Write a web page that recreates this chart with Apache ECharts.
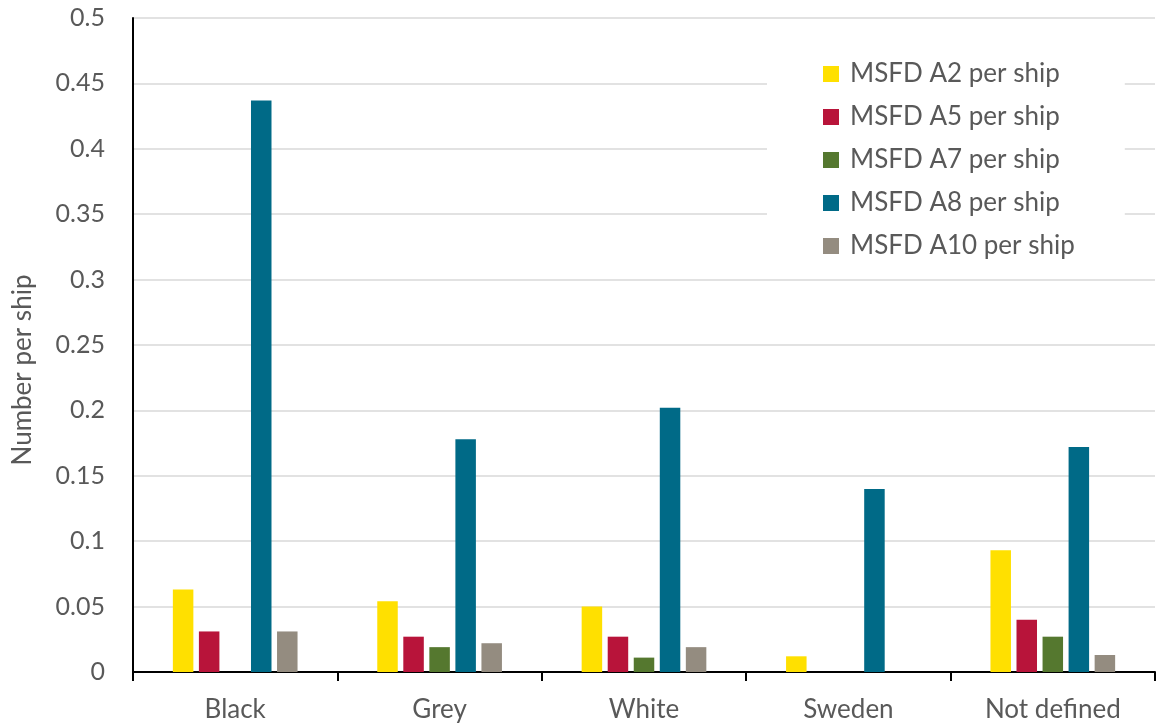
<!DOCTYPE html>
<html>
<head>
<meta charset="utf-8">
<script src="https://cdn.jsdelivr.net/npm/echarts@6/dist/echarts.min.js"></script>
<style>html,body{margin:0;padding:0;background:#fff;}#c{width:1157px;height:726px;}</style>
</head>
<body>
<div id="c"></div>
<script>
const categories = ['Black', 'Grey', 'White', 'Sweden', 'Not defined'];
const seriesNames = ['MSFD A2 per ship', 'MSFD A5 per ship', 'MSFD A7 per ship', 'MSFD A8 per ship', 'MSFD A10 per ship'];
const a2 = [0.063, 0.054, 0.050, 0.012, 0.093];
const a5 = [0.031, 0.027, 0.027, 0, 0.040];
const a7 = [0, 0.019, 0.011, 0, 0.027];
const a8 = [0.437, 0.178, 0.202, 0.140, 0.172];
const a10 = [0.031, 0.022, 0.019, 0, 0.013];
const colors = ['#FFE000', '#B8143A', '#55782F', '#006A87', '#948C80'];
const yTicks = { min: 0, max: 0.5, interval: 0.05 };

const FONT = 'Lato';
const TXT = '#595959';
const values = [a2, a5, a7, a8, a10];

const chart = echarts.init(document.getElementById('c'), null, { renderer: 'canvas' });
chart.setOption({
  animation: false,
  textStyle: { fontFamily: FONT },
  grid: { left: 133, right: 2, top: 18, bottom: 54, containLabel: false, outerBoundsMode: 'none' },
  legend: {
    orient: 'vertical',
    left: 767,
    top: 49,
    padding: [12, 50, 12, 56],
    backgroundColor: '#ffffff',
    itemWidth: 16,
    itemHeight: 16,
    itemGap: 17,
    icon: 'rect',
    data: seriesNames,
    textStyle: { color: TXT, fontFamily: FONT, fontSize: 26, padding: [0, 0, 0, 6] }
  },
  xAxis: {
    type: 'category',
    data: categories,
    axisLine: { lineStyle: { color: '#000', width: 2 } },
    axisTick: { show: true, length: 9, lineStyle: { color: '#000', width: 2 } },
    axisLabel: { color: TXT, fontFamily: FONT, fontSize: 26, margin: 25 },
    splitLine: { show: false }
  },
  yAxis: {
    type: 'value',
    min: yTicks.min,
    max: yTicks.max,
    interval: yTicks.interval,
    name: 'Number per ship',
    nameLocation: 'middle',
    nameGap: 97,
    nameRotate: 90,
    nameTextStyle: { color: TXT, fontFamily: FONT, fontSize: 26, padding: [0, 50, 0, 0] },
    axisLine: { show: true, lineStyle: { color: '#000', width: 2 } },
    axisTick: { show: false },
    axisLabel: { color: TXT, fontFamily: FONT, fontSize: 25, margin: 28 },
    splitLine: { show: true, lineStyle: { color: '#D9D9D9', width: 1.5 } }
  },
  series: seriesNames.map((n, i) => ({
    name: n,
    type: 'bar',
    data: values[i],
    itemStyle: { color: colors[i] },
    barGap: '27%',
    barCategoryGap: '39%'
  }))
});
</script>
</body>
</html>
